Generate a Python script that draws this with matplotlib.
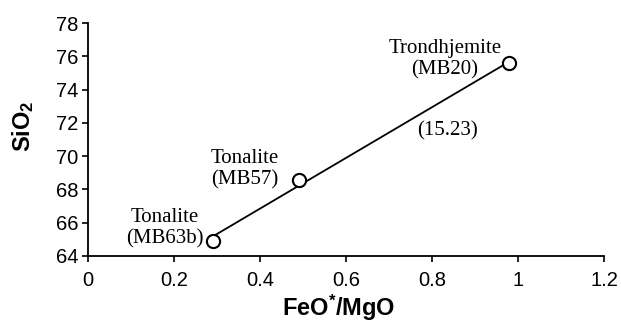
import numpy as np
import matplotlib
matplotlib.use("Agg")
import matplotlib.pyplot as plt

plt.rcParams['font.family'] = ['Liberation Sans', 'DejaVu Sans']
plt.rcParams['mathtext.fontset'] = 'custom'
plt.rcParams['mathtext.rm'] = 'Liberation Sans:bold'
plt.rcParams['mathtext.bf'] = 'Liberation Sans:bold'
plt.rcParams['mathtext.it'] = 'Liberation Sans:bold'

# data
feo_mgo = [0.29, 0.49, 0.98]
sio2 = [64.92, 68.57, 75.58]
labels = ["Tonalite\n(MB63b)", "Tonalite\n(MB57)", "Trondhjemite\n(MB20)"]
label_x = [0.179, 0.365, 0.830]
label_y = [65.65, 69.23, 75.81]
slope_text = "(15.23)"
slope_pos = (0.837, 71.51)
xticks = [0, 0.2, 0.4, 0.6, 0.8, 1, 1.2]
xticklabels = ["0", "0.2", "0.4", "0.6", "0.8", "1", "1.2"]
yticks = [64, 66, 68, 70, 72, 74, 76, 78]

fig = plt.figure(figsize=(6.21, 3.24), dpi=100)
ax = fig.add_axes([0.1417, 0.2099, 0.8309, 0.7191])

# regression line
x = np.array(feo_mgo)
y = np.array(sio2)
m, b = np.polyfit(x, y, 1)
xl = np.array([x.min(), x.max()])
ax.plot(xl, m * xl + b, color='black', lw=1.3, zorder=2)
ax.plot(x, y, 'o', ms=9.5, mfc='white', mec='black', mew=1.5, zorder=3, clip_on=False)

for t, tx, ty in zip(labels, label_x, label_y):
    ax.text(tx, ty, t, ha='center', va='center', family='Liberation Serif',
            fontsize=15, linespacing=1.15)
ax.text(slope_pos[0], slope_pos[1], slope_text, ha='center', va='center',
        family='Liberation Serif', fontsize=15)

ax.set_xlim(0, 1.2)
ax.set_ylim(64, 78)
ax.set_xticks(xticks)
ax.set_xticklabels(xticklabels)
ax.set_yticks(yticks)
ax.tick_params(labelsize=14.5, direction='out', length=4, width=1.2, color='black')
ax.tick_params(axis='x', pad=7)
ax.tick_params(axis='y', pad=3)
for s in ['top', 'right']:
    ax.spines[s].set_visible(False)
for s in ['left', 'bottom']:
    ax.spines[s].set_linewidth(1.3)

ax.set_xlabel(r'FeO$^{*}$/MgO', fontsize=17, fontweight='bold')
ax.set_ylabel(r'SiO$_{2}$', fontsize=17, fontweight='bold')
ax.xaxis.set_label_coords(0.485, -0.16)
ax.yaxis.set_label_coords(-0.10, 0.555)

fig.savefig('out.png', dpi=100)
